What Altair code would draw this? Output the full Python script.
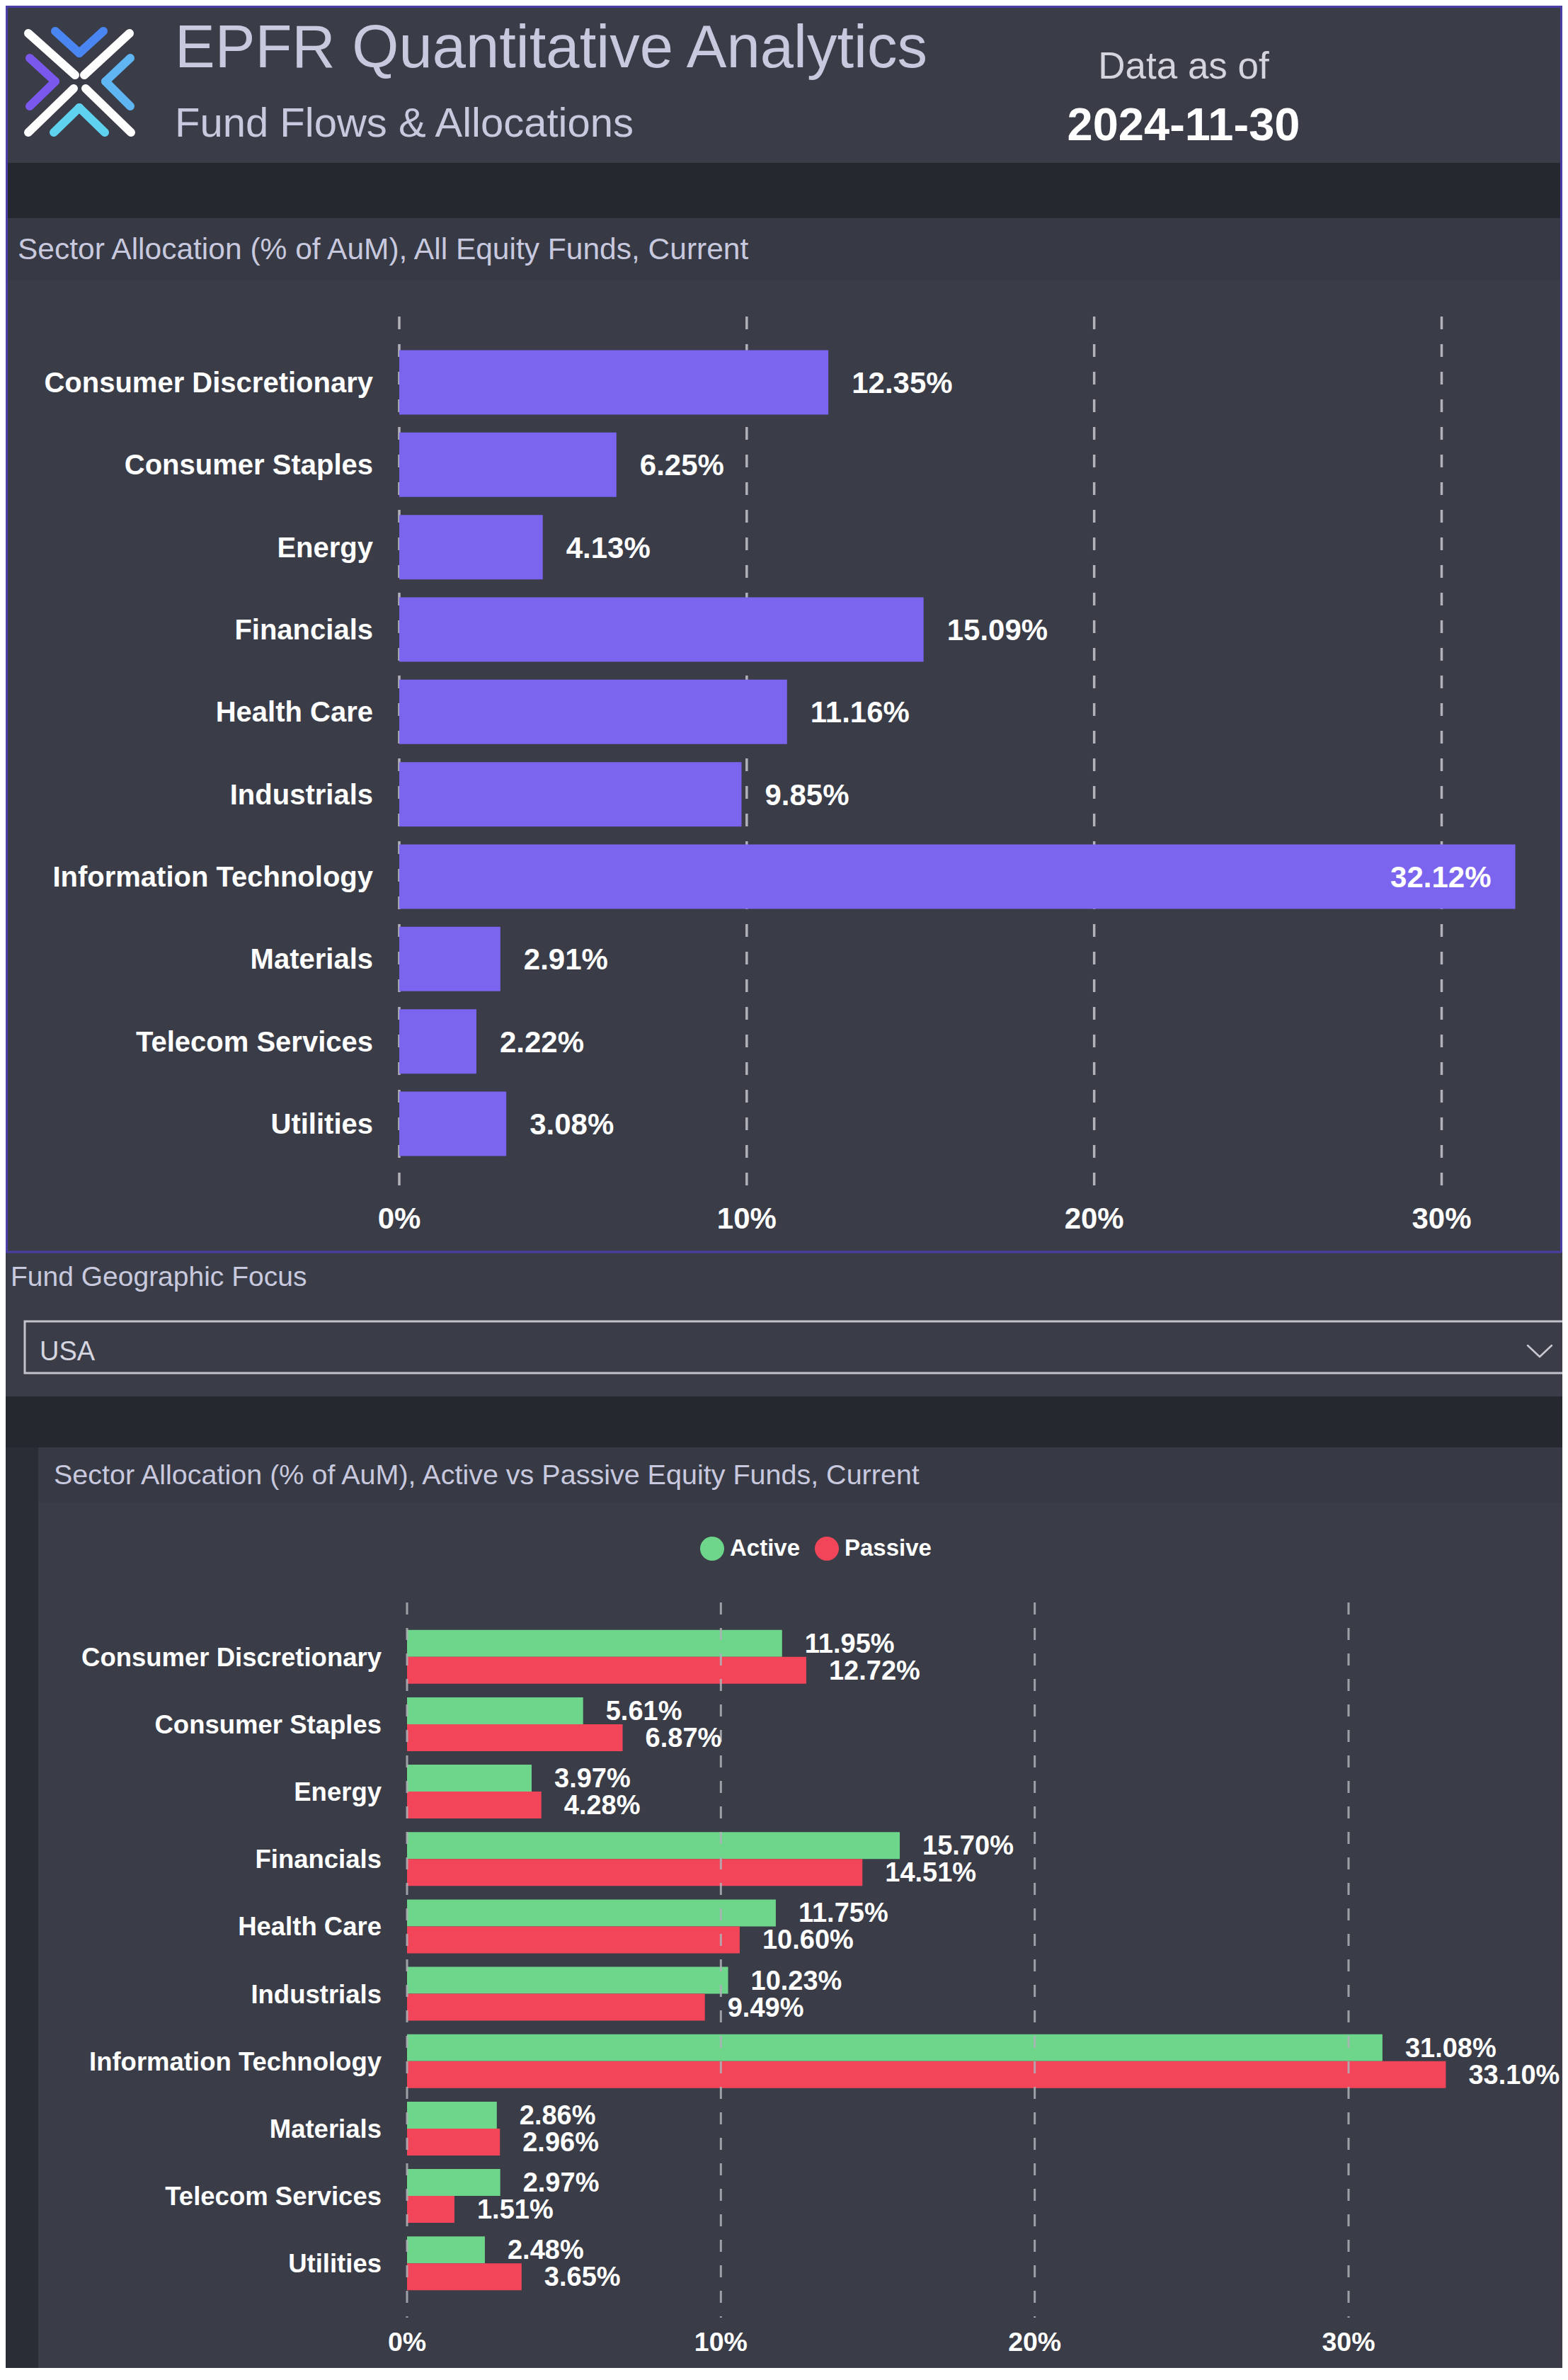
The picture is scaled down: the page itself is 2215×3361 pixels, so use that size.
import altair as alt
import pandas as pd

# ---------------- data ----------------
SECTORS = ["Consumer Discretionary", "Consumer Staples", "Energy", "Financials",
           "Health Care", "Industrials", "Information Technology", "Materials",
           "Telecom Services", "Utilities"]
ALL_EQUITY = [12.35, 6.25, 4.13, 15.09, 11.16, 9.85, 32.12, 2.91, 2.22, 3.08]
ACTIVE = [11.95, 5.61, 3.97, 15.70, 11.75, 10.23, 31.08, 2.86, 2.97, 2.48]
PASSIVE = [12.72, 6.87, 4.28, 14.51, 10.60, 9.49, 33.10, 2.96, 1.51, 3.65]
SERIES = ["Active", "Passive"]
TICKS = [0, 10, 20, 30]
TICK_LABELS = ["0%", "10%", "20%", "30%"]

TITLE = "EPFR Quantitative Analytics"
SUBTITLE = "Fund Flows & Allocations"
DATE_LABEL = "Data as of"
DATE_VALUE = "2024-11-30"
CHART1_TITLE = "Sector Allocation (% of AuM), All Equity Funds, Current"
FILTER_LABEL = "Fund Geographic Focus"
FILTER_VALUE = "USA"
CHART2_TITLE = "Sector Allocation (% of AuM), Active vs Passive Equity Funds, Current"

# ---------------- style ----------------
FONT = "Liberation Sans"
PANEL = "#3a3d47"
SUB = "#373a44"
DARK = "#262830"
STRIP = "#2b2d36"
PURPLE = "#7b64ee"
GREEN = "#6dd68a"
RED = "#f2455a"
LAV = "#c8c9de"
GRID = "#b0b1b9"
O = 8  # page margin offset

W, H = 2199, 3336

df1 = pd.DataFrame({"sector": SECTORS, "value": ALL_EQUITY})
df2 = pd.DataFrame({"sector": SECTORS * 2,
                    "type": [SERIES[0]] * len(ACTIVE) + [SERIES[1]] * len(PASSIVE),
                    "value": ACTIVE + PASSIVE})
dft = pd.DataFrame({"v": TICKS, "lbl": TICK_LABELS})
dfs = pd.DataFrame({"sector": SECTORS})
one = pd.DataFrame({"k": [0]})


def deco_rect(x1, y1, x2, y2, **kw):
    return alt.Chart(one).mark_rect(**kw).encode(
        x=alt.value(x1 - O), x2=alt.value(x2 - O),
        y=alt.value(y1 - O), y2=alt.value(y2 - O))


def deco_text(txt, x, y, **kw):
    kw.setdefault("font", FONT)
    return alt.Chart(one).mark_text(text=txt, **kw).encode(
        x=alt.value(x - O), y=alt.value(y - O))


def deco_seg(x1, y1, x2, y2, color, w):
    return alt.Chart(one).mark_rule(color=color, strokeWidth=w, strokeCap="round").encode(
        x=alt.value(x1 - O), y=alt.value(y1 - O),
        x2=alt.value(x2 - O), y2=alt.value(y2 - O))


LBL = "format(datum.value, '.2f') + '%'"

# ---------------- chart 1 ----------------
xs1 = alt.Scale(domain=[0, 30], range=[564 - O, 2036.5 - O], nice=False, zero=False)
ys1 = alt.Scale(domain=SECTORS, range=[447 - O, 1680 - O], paddingInner=0.218, paddingOuter=0.4085)
X1 = alt.X("value:Q", scale=xs1, axis=None)
Y1 = alt.Y("sector:N", scale=ys1, axis=None)

grid1 = alt.Chart(dft).mark_rule(color=GRID, strokeWidth=3.5, strokeDash=[18, 21]).encode(
    x=alt.X("v:Q", scale=xs1, axis=None), y=alt.value(447 - O), y2=alt.value(1680 - O))
bars1 = alt.Chart(df1).mark_bar(color=PURPLE).encode(x=X1, y=Y1)
lab1_out = alt.Chart(df1).transform_filter("datum.value < 30").transform_calculate(lbl=LBL).mark_text(
    align="left", baseline="middle", dx=33, dy=2, font=FONT, fontSize=42, fontWeight="bold", color="white"
).encode(x=X1, y=Y1, text="lbl:N")
lab1_in = alt.Chart(df1).transform_filter("datum.value >= 30").transform_calculate(lbl=LBL).mark_text(
    align="right", baseline="middle", dx=-34, dy=2, font=FONT, fontSize=42, fontWeight="bold", color="white"
).encode(x=X1, y=Y1, text="lbl:N")
cat1 = alt.Chart(dfs).mark_text(
    align="right", baseline="middle", dy=2, font=FONT, fontSize=40, fontWeight="bold", color="white"
).encode(y=alt.Y("sector:N", scale=ys1, axis=None), x=alt.value(527 - O), text="sector:N")
tick1 = alt.Chart(dft).mark_text(
    align="center", baseline="middle", font=FONT, fontSize=42, fontWeight="bold", color="white"
).encode(x=alt.X("v:Q", scale=xs1, axis=None), y=alt.value(1722 - O), text="lbl:N")

chart1 = alt.layer(grid1, bars1, lab1_out, lab1_in, cat1, tick1)

# ---------------- chart 2 ----------------
xs2 = alt.Scale(domain=[0, 30], range=[575 - O, 1905 - O], nice=False, zero=False)
ys2 = alt.Scale(domain=SECTORS, range=[2263 - O, 3273 - O], paddingInner=0.2014, paddingOuter=0.407)
X2 = alt.X("value:Q", scale=xs2, axis=None)
Y2 = alt.Y("sector:N", scale=ys2, axis=None)
YOFF = alt.YOffset("type:N", scale=alt.Scale(domain=SERIES))
COLOR = alt.Color("type:N", scale=alt.Scale(domain=SERIES, range=[GREEN, RED]),
                  legend=alt.Legend(orient="none", legendX=1006 - 17 - O, legendY=2187 - 17 - O,
                                    direction="horizontal", title=None, symbolType="circle",
                                    symbolSize=1156, symbolStrokeWidth=0, symbolOpacity=1,
                                    labelFont=FONT, labelFontSize=33, labelFontWeight="bold",
                                    labelColor="white", labelOffset=8, columnPadding=20,
                                    padding=0, rowPadding=0))

bars2 = alt.Chart(df2).mark_bar().encode(x=X2, y=Y2, yOffset=YOFF, color=COLOR)
grid2 = alt.Chart(dft).mark_rule(color=GRID, strokeWidth=3, strokeDash=[17, 19], opacity=0.85).encode(
    x=alt.X("v:Q", scale=xs2, axis=None), y=alt.value(2263 - O), y2=alt.value(3273 - O))
lab2 = alt.Chart(df2).transform_calculate(lbl=LBL).mark_text(
    align="left", baseline="middle", dx=32, dy=2, font=FONT, fontSize=38, fontWeight="bold", color="white"
).encode(x=X2, y=Y2, yOffset=YOFF, text="lbl:N")
cat2 = alt.Chart(dfs).mark_text(
    align="right", baseline="middle", dy=2, font=FONT, fontSize=36.5, fontWeight="bold", color="white"
).encode(y=alt.Y("sector:N", scale=ys2, axis=None), x=alt.value(539 - O), text="sector:N")
tick2 = alt.Chart(dft).mark_text(
    align="center", baseline="middle", font=FONT, fontSize=37.5, fontWeight="bold", color="white"
).encode(x=alt.X("v:Q", scale=xs2, axis=None), y=alt.value(3309 - O), text="lbl:N")

chart2 = alt.layer(bars2, grid2, lab2, cat2, tick2)

# ---------------- decorations ----------------
backs = [
    deco_rect(0, 230, 2215, 308, fill=DARK),
    deco_rect(0, 308, 2215, 396, fill=SUB),
    deco_rect(0, 1972, 2215, 2044, fill=DARK),
    deco_rect(0, 2044, 54, 3400, fill=STRIP),
    deco_rect(54, 2044, 2215, 2122, fill=SUB),
]

border = deco_rect(9.5, 9.5, 2205.5, 1768, fillOpacity=0, stroke="#4a3fa6", strokeWidth=3)

texts = [
    deco_text(TITLE, 247, 95, fontSize=85, color=LAV, align="left", baseline="alphabetic"),
    deco_text(SUBTITLE, 247, 193, fontSize=58, color=LAV, align="left", baseline="alphabetic"),
    deco_text(DATE_LABEL, 1672, 111, fontSize=53, color="#d4d4de", align="center", baseline="alphabetic"),
    deco_text(DATE_VALUE, 1672, 198, fontSize=65, fontWeight="bold", color="white", align="center",
              baseline="alphabetic"),
    deco_text(CHART1_TITLE, 25, 366, fontSize=42.5, color=LAV, align="left", baseline="alphabetic"),
    deco_text(FILTER_LABEL, 15, 1816, fontSize=39, color=LAV, align="left", baseline="alphabetic"),
    deco_text(FILTER_VALUE, 56, 1921, fontSize=38, color="#d6d6e0", align="left", baseline="alphabetic"),
    deco_text(CHART2_TITLE, 76, 2096, fontSize=39.5, color=LAV, align="left", baseline="alphabetic"),
]

dropdown = [
    deco_rect(35, 1866, 2260, 1939, fillOpacity=0, stroke="#c2c3cb", strokeWidth=3),
    deco_seg(2158, 1900, 2175, 1916, "#c8c8d0", 2.5),
    deco_seg(2175, 1916, 2192, 1900, "#c8c8d0", 2.5),
]

LW = 12
logo = [
    deco_seg(40, 47, 106, 106, "white", LW),
    deco_seg(183, 47, 119, 106, "white", LW),
    deco_seg(40, 187, 104, 125, "white", LW),
    deco_seg(185, 187, 121, 125, "white", LW),
    deco_seg(78, 44, 112, 75, "#4a86f2", LW),
    deco_seg(112, 75, 146, 44, "#4a86f2", LW),
    deco_seg(42, 82, 78, 115, "#7a58ee", LW),
    deco_seg(78, 115, 42, 150, "#7a58ee", LW),
    deco_seg(184, 82, 149, 115, "#5fb6f2", LW),
    deco_seg(149, 115, 184, 150, "#5fb6f2", LW),
    deco_seg(76, 187, 112, 152, "#5fd2ef", LW),
    deco_seg(112, 152, 148, 187, "#5fd2ef", LW),
]

chart = alt.layer(*backs, border, chart1, chart2, *texts, *dropdown, *logo).resolve_scale(
    x="independent", y="independent", color="independent"
).properties(
    width=W, height=H, background=PANEL, padding=0,
    autosize=alt.AutoSizeParams(type="none"),
).configure_view(strokeWidth=0)

chart.save("out.html", embed_options={"renderer": "svg", "actions": False})
